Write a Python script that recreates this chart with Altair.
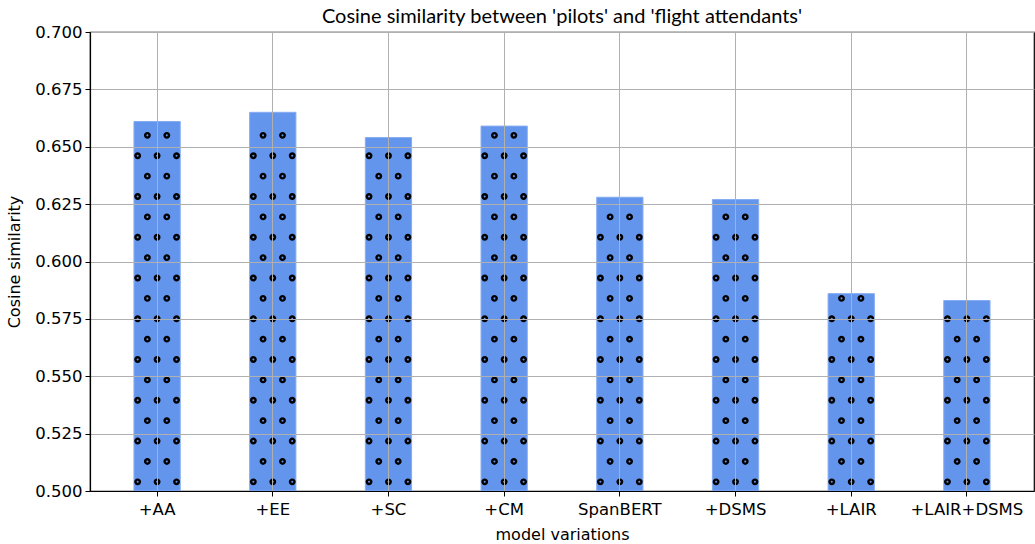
import altair as alt
import pandas as pd

models = ["+AA", "+EE", "+SC", "+CM", "SpanBERT", "+DSMS", "+LAIR", "+LAIR+DSMS"]
similarity = [0.661, 0.665, 0.654, 0.659, 0.628, 0.627, 0.586, 0.583]
y_ticks = [0.500, 0.525, 0.550, 0.575, 0.600, 0.625, 0.650, 0.675, 0.700]

bars_df = pd.DataFrame({"model": models, "similarity": similarity})

# decorative 'o' hatch: rows of small rings inside each bar (alternating 3/2 per row)
hatch_rows = []
row_step = 0.00888
row_start = 0.5040
for m, v in zip(models, similarity):
    k = 0
    while row_start + k * row_step <= v - 0.0015:
        yv = row_start + k * row_step
        cols = ["c1", "c3", "c5"] if k % 2 == 0 else ["c2", "c4"]
        for c in cols:
            hatch_rows.append({"model": m, "y": yv, "col": c})
        k += 1
hatch_df = pd.DataFrame(hatch_rows)
hatch_band_pos = {"c1": 0.08, "c2": 0.29, "c3": 0.5, "c4": 0.71, "c5": 0.92}

x_scale = alt.Scale(domain=models, paddingInner=0.6, paddingOuter=0.38)
y_scale = alt.Scale(domain=[0.5, 0.7], nice=False, zero=False)

x_axis = alt.Axis(title="model variations", labelAngle=0, bandPosition=0.5,
                  grid=True, zindex=1, values=models)
y_axis = alt.Axis(title="Cosine similarity", values=y_ticks, format=".3f",
                  grid=True, zindex=1)

bars = alt.Chart(bars_df).mark_bar(
    color="#6495ED", stroke="#86acf2", strokeWidth=1
).encode(
    x=alt.X("model:N", scale=x_scale, axis=x_axis, sort=models),
    y=alt.Y("similarity:Q", scale=y_scale, axis=y_axis),
    y2=alt.datum(0.5),
)

dot_layers = []
for c, bp in hatch_band_pos.items():
    dot_layers.append(
        alt.Chart(hatch_df).transform_filter(alt.datum.col == c).mark_point(
            shape="circle", filled=False, stroke="#000000", strokeWidth=2.4, size=20, opacity=1
        ).encode(
            x=alt.X("model:N", scale=x_scale, sort=models, bandPosition=bp),
            y=alt.Y("y:Q", scale=y_scale),
        )
    )

chart = alt.layer(bars, *dot_layers).properties(
    width=944,
    height=459,
    padding={"left": 90, "top": 32, "right": 1, "bottom": 53},
    autosize=alt.AutoSizeParams(type="none"),
    title=alt.Title("Cosine similarity between 'pilots' and 'flight attendants'",
                    font="Lato", fontSize=20, fontWeight="normal", color="#000000",
                    anchor="middle", offset=-3),
).configure_view(
    stroke="#000000", strokeWidth=1.2
).configure_axis(
    labelFont="DejaVu Sans", labelFontSize=16.5, labelColor="#000000",
    titleFont="DejaVu Sans", titleFontSize=16, titleFontWeight="normal", titleColor="#000000",
    tickColor="#000000", tickSize=5, tickWidth=1, labelPadding=3,
    domainColor="#000000", domainWidth=1.2,
    gridColor="#b0b0b0", gridWidth=1, gridOpacity=1,
).configure_axisY(
    titlePadding=12,
).configure_axisX(
    titlePadding=9, labelPadding=5,
)

chart.save("out.html", embed_options={"renderer": "svg", "actions": False})
